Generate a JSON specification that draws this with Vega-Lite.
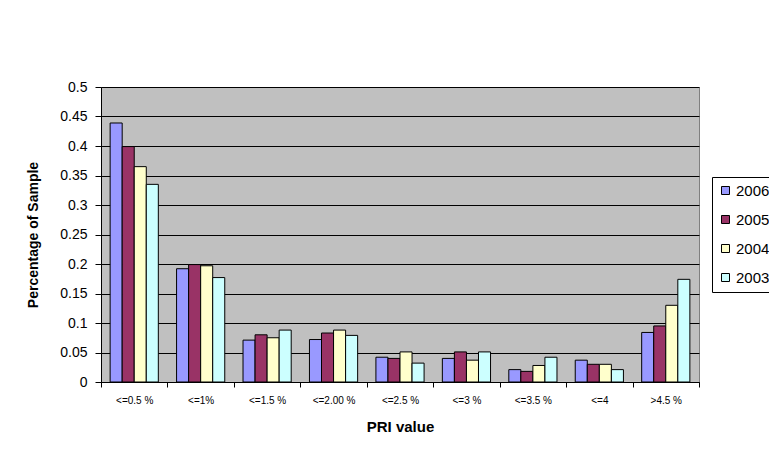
{
  "$schema": "https://vega.github.io/schema/vega-lite/v6.json",
  "autosize": {"type": "none"},
  "width": 598,
  "height": 295,
  "padding": {"left": 101, "top": 87, "right": 70, "bottom": 71},
  "background": "white",
  "config": {
    "font": "Liberation Sans",
    "view": {"fill": "#C0C0C0", "stroke": "#808080", "strokeWidth": 1}
  },
  "data": {
    "values": [
      {"cat": "<=0.5 %", "year": "2006", "v": 0.439},
      {"cat": "<=0.5 %", "year": "2005", "v": 0.399},
      {"cat": "<=0.5 %", "year": "2004", "v": 0.365},
      {"cat": "<=0.5 %", "year": "2003", "v": 0.335},
      {"cat": "<=1%", "year": "2006", "v": 0.192},
      {"cat": "<=1%", "year": "2005", "v": 0.199},
      {"cat": "<=1%", "year": "2004", "v": 0.197},
      {"cat": "<=1%", "year": "2003", "v": 0.177},
      {"cat": "<=1.5 %", "year": "2006", "v": 0.071},
      {"cat": "<=1.5 %", "year": "2005", "v": 0.080},
      {"cat": "<=1.5 %", "year": "2004", "v": 0.075},
      {"cat": "<=1.5 %", "year": "2003", "v": 0.088},
      {"cat": "<=2.00 %", "year": "2006", "v": 0.072},
      {"cat": "<=2.00 %", "year": "2005", "v": 0.083},
      {"cat": "<=2.00 %", "year": "2004", "v": 0.088},
      {"cat": "<=2.00 %", "year": "2003", "v": 0.079},
      {"cat": "<=2.5 %", "year": "2006", "v": 0.042},
      {"cat": "<=2.5 %", "year": "2005", "v": 0.040},
      {"cat": "<=2.5 %", "year": "2004", "v": 0.051},
      {"cat": "<=2.5 %", "year": "2003", "v": 0.032},
      {"cat": "<=3 %", "year": "2006", "v": 0.040},
      {"cat": "<=3 %", "year": "2005", "v": 0.051},
      {"cat": "<=3 %", "year": "2004", "v": 0.037},
      {"cat": "<=3 %", "year": "2003", "v": 0.051},
      {"cat": "<=3.5 %", "year": "2006", "v": 0.021},
      {"cat": "<=3.5 %", "year": "2005", "v": 0.018},
      {"cat": "<=3.5 %", "year": "2004", "v": 0.028},
      {"cat": "<=3.5 %", "year": "2003", "v": 0.042},
      {"cat": "<=4", "year": "2006", "v": 0.037},
      {"cat": "<=4", "year": "2005", "v": 0.030},
      {"cat": "<=4", "year": "2004", "v": 0.030},
      {"cat": "<=4", "year": "2003", "v": 0.021},
      {"cat": ">4.5 %", "year": "2006", "v": 0.084},
      {"cat": ">4.5 %", "year": "2005", "v": 0.095},
      {"cat": ">4.5 %", "year": "2004", "v": 0.130},
      {"cat": ">4.5 %", "year": "2003", "v": 0.174}
    ]
  },
  "mark": {"type": "bar", "stroke": "black", "strokeWidth": 1},
  "encoding": {
    "x": {
      "field": "cat",
      "type": "nominal",
      "sort": null,
      "scale": {"paddingInner": 0, "paddingOuter": 0},
      "axis": {
        "title": "PRI value",
        "titleFontSize": 15,
        "titleFontWeight": "bold",
        "titleColor": "black",
        "titlePadding": 14,
        "labelAngle": 0,
        "labelFontSize": 10,
        "labelColor": "black",
        "labelPadding": 8,
        "tickBand": "extent",
        "tickSize": 5,
        "tickColor": "black",
        "domainColor": "black",
        "grid": false
      }
    },
    "xOffset": {
      "field": "year",
      "type": "nominal",
      "sort": ["2006", "2005", "2004", "2003"],
      "scale": {"paddingInner": 0, "paddingOuter": 0.758}
    },
    "y": {
      "field": "v",
      "type": "quantitative",
      "scale": {"domain": [0, 0.5], "nice": false},
      "axis": {
        "title": "Percentage of Sample",
        "titleFontSize": 14,
        "titleFontWeight": "bold",
        "titleColor": "black",
        "titlePadding": 19,
        "values": [0, 0.05, 0.1, 0.15, 0.2, 0.25, 0.3, 0.35, 0.4, 0.45, 0.5],
        "format": "~g",
        "labelFontSize": 14,
        "labelColor": "black",
        "labelPadding": 8,
        "tickSize": 6,
        "tickColor": "black",
        "domainColor": "black",
        "grid": true,
        "gridColor": "black",
        "gridWidth": 1,
        "gridOpacity": 1
      }
    },
    "color": {
      "field": "year",
      "type": "nominal",
      "scale": {
        "domain": ["2006", "2005", "2004", "2003"],
        "range": ["#9999FF", "#993366", "#FFFFCC", "#CCFFFF"]
      },
      "legend": {
        "title": null,
        "orient": "none",
        "legendX": 611,
        "legendY": 90,
        "strokeColor": "black",
        "fillColor": "white",
        "padding": 6,
        "symbolType": "square",
        "symbolSize": 64,
        "symbolStrokeColor": "black",
        "symbolStrokeWidth": 1,
        "symbolOpacity": 1,
        "labelFontSize": 15,
        "labelColor": "black",
        "labelOffset": 3,
        "labelLimit": 200,
        "rowPadding": 13
      }
    }
  }
}
